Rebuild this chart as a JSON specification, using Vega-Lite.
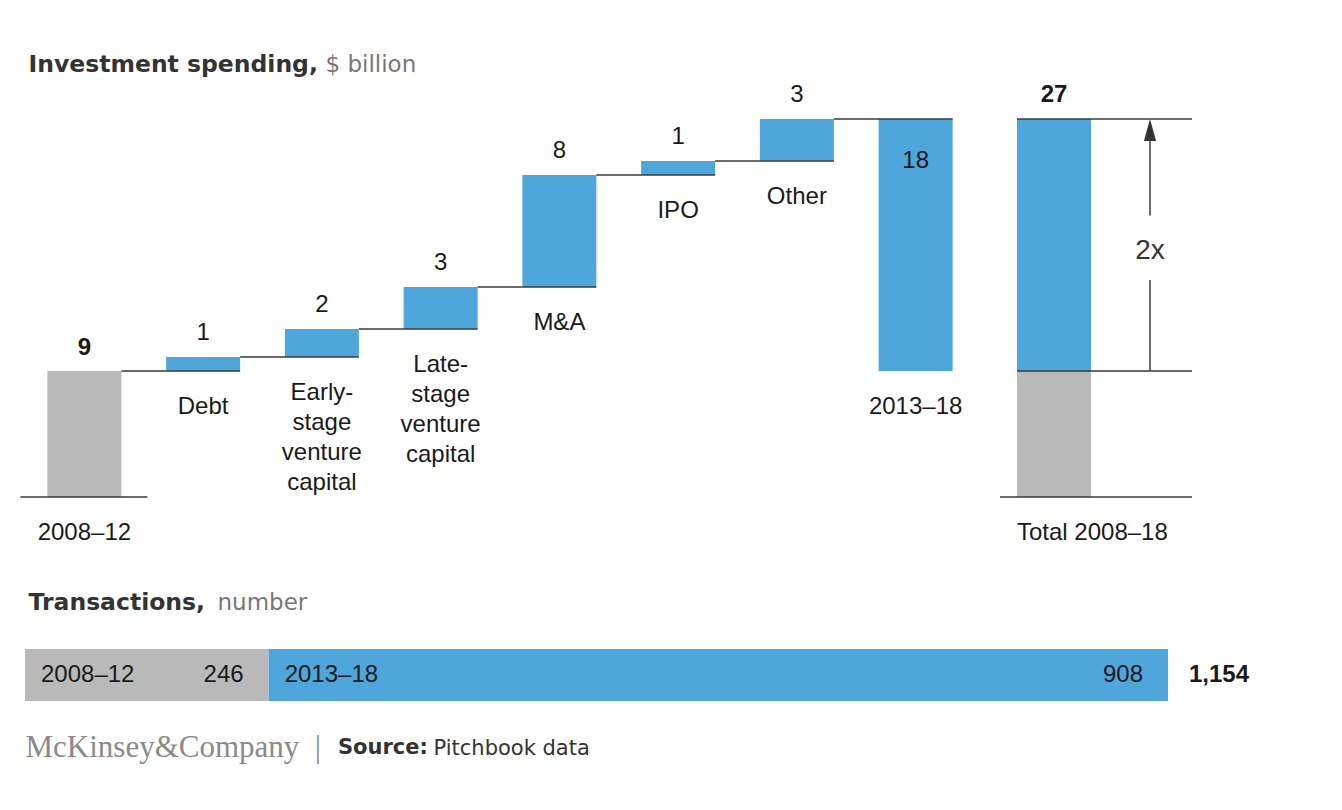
{
  "$schema": "https://vega.github.io/schema/vega-lite/v6.json",
  "background": "white",
  "padding": {"left": 19, "top": 52, "right": 20, "bottom": 10},
  "bounds": "flush",
  "spacing": 152,
  "config": {
    "view": {"stroke": null},
    "axis": {"grid": false, "labels": false, "ticks": false, "domain": false},
    "text": {"font": "Liberation Sans", "fontSize": 24, "color": "#1a1a1a"}
  },
  "vconcat": [
    {
      "width": 1167,
      "height": 378,
      "resolve": {"scale": {"x": "independent", "y": "independent"}, "axis": {"x": "independent", "y": "independent"}},
      "layer": [
        {
          "data": {"values": [
            {"cat": "2008–12", "label": ["2008–12"], "start": 0, "end": 9, "value": "9", "kind": "base", "next": "Debt"},
            {"cat": "Debt", "label": ["Debt"], "start": 9, "end": 10, "value": "1", "kind": "step", "next": "Early-stage venture capital"},
            {"cat": "Early-stage venture capital", "label": ["Early-", "stage", "venture", "capital"], "start": 10, "end": 12, "value": "2", "kind": "step", "next": "Late-stage venture capital"},
            {"cat": "Late-stage venture capital", "label": ["Late-", "stage", "venture", "capital"], "start": 12, "end": 15, "value": "3", "kind": "step", "next": "M&A"},
            {"cat": "M&A", "label": ["M&A"], "start": 15, "end": 23, "value": "8", "kind": "step", "next": "IPO"},
            {"cat": "IPO", "label": ["IPO"], "start": 23, "end": 24, "value": "1", "kind": "step", "next": "Other"},
            {"cat": "Other", "label": ["Other"], "start": 24, "end": 27, "value": "3", "kind": "step", "next": "2013–18"},
            {"cat": "2013–18", "label": ["2013–18"], "start": 9, "end": 27, "value": "18", "kind": "sum", "next": null}
          ]},
          "layer": [
            {
              "mark": {"type": "bar"},
              "encoding": {
                "x": {"field": "cat", "type": "nominal", "scale": {"domain": ["2008–12", "Debt", "Early-stage venture capital", "Late-stage venture capital", "M&A", "IPO", "Other", "2013–18"], "range": [0, 950], "paddingInner": 0.3768, "paddingOuter": 0.1884},
                  "axis": {"orient": "bottom", "title": "$ billion", "titleX": 300, "titleY": -426, "titleAngle": 0, "titleAlign": "left", "titleBaseline": "alphabetic", "titleFont": "DejaVu Sans", "titleFontSize": 23, "titleFontWeight": "normal", "titleColor": "#777777"}},
                "y": {"field": "start", "type": "quantitative", "scale": {"domain": [0, 27], "nice": false, "zero": true},
                  "axis": {"orient": "left", "title": "Investment spending,", "titleX": 3, "titleY": -48, "titleAngle": 0, "titleAlign": "left", "titleBaseline": "alphabetic", "titleFont": "DejaVu Sans", "titleFontSize": 23.5, "titleFontWeight": "bold", "titleColor": "#333333"}},
                "y2": {"field": "end"},
                "color": {"field": "kind", "type": "nominal", "scale": {"domain": ["base", "step", "sum"], "range": ["#b9b9b9", "#4fa6db", "#4fa6db"]}, "legend": null}
              }
            },
            {
              "transform": [{"filter": "isValid(datum.next)"}],
              "mark": {"type": "rule", "color": "#3a3a3a", "strokeWidth": 1.5},
              "encoding": {
                "x": {"field": "cat", "type": "nominal", "bandPosition": 1, "scale": {"domain": ["2008–12", "Debt", "Early-stage venture capital", "Late-stage venture capital", "M&A", "IPO", "Other", "2013–18"], "range": [0, 950], "paddingInner": 0.3768, "paddingOuter": 0.1884}},
                "x2": {"field": "next", "bandPosition": 1},
                "y": {"field": "end", "type": "quantitative", "scale": {"domain": [0, 27], "nice": false, "zero": true}}
              }
            },
            {
              "transform": [{"filter": "datum.kind == 'base'"}],
              "mark": {"type": "rule", "color": "#3a3a3a", "strokeWidth": 1.5, "xOffset": -27, "x2Offset": 26},
              "encoding": {
                "x": {"field": "cat", "type": "nominal", "bandPosition": 0, "scale": {"domain": ["2008–12", "Debt", "Early-stage venture capital", "Late-stage venture capital", "M&A", "IPO", "Other", "2013–18"], "range": [0, 950], "paddingInner": 0.3768, "paddingOuter": 0.1884}},
                "x2": {"field": "cat", "bandPosition": 1},
                "y": {"field": "start", "type": "quantitative", "scale": {"domain": [0, 27], "nice": false, "zero": true}}
              }
            },
            {
              "mark": {"type": "text", "baseline": "top", "dy": 24, "lineHeight": 30},
              "encoding": {
                "x": {"field": "cat", "type": "nominal", "scale": {"domain": ["2008–12", "Debt", "Early-stage venture capital", "Late-stage venture capital", "M&A", "IPO", "Other", "2013–18"], "range": [0, 950], "paddingInner": 0.3768, "paddingOuter": 0.1884}},
                "y": {"field": "start", "type": "quantitative", "scale": {"domain": [0, 27], "nice": false, "zero": true}},
                "text": {"field": "label"}
              }
            },
            {
              "transform": [{"filter": "datum.kind == 'step'"}],
              "mark": {"type": "text", "baseline": "alphabetic", "dy": -17},
              "encoding": {
                "x": {"field": "cat", "type": "nominal", "scale": {"domain": ["2008–12", "Debt", "Early-stage venture capital", "Late-stage venture capital", "M&A", "IPO", "Other", "2013–18"], "range": [0, 950], "paddingInner": 0.3768, "paddingOuter": 0.1884}},
                "y": {"field": "end", "type": "quantitative", "scale": {"domain": [0, 27], "nice": false, "zero": true}},
                "text": {"field": "value"}
              }
            },
            {
              "transform": [{"filter": "datum.kind == 'base'"}],
              "mark": {"type": "text", "baseline": "alphabetic", "dy": -16, "fontWeight": "bold"},
              "encoding": {
                "x": {"field": "cat", "type": "nominal", "scale": {"domain": ["2008–12", "Debt", "Early-stage venture capital", "Late-stage venture capital", "M&A", "IPO", "Other", "2013–18"], "range": [0, 950], "paddingInner": 0.3768, "paddingOuter": 0.1884}},
                "y": {"field": "end", "type": "quantitative", "scale": {"domain": [0, 27], "nice": false, "zero": true}},
                "text": {"field": "value"}
              }
            },
            {
              "transform": [{"filter": "datum.kind == 'sum'"}],
              "mark": {"type": "text", "baseline": "alphabetic", "dy": 49},
              "encoding": {
                "x": {"field": "cat", "type": "nominal", "scale": {"domain": ["2008–12", "Debt", "Early-stage venture capital", "Late-stage venture capital", "M&A", "IPO", "Other", "2013–18"], "range": [0, 950], "paddingInner": 0.3768, "paddingOuter": 0.1884}},
                "y": {"field": "end", "type": "quantitative", "scale": {"domain": [0, 27], "nice": false, "zero": true}},
                "text": {"field": "value"}
              }
            }
          ]
        },
        {
          "layer": [
            {
              "data": {"values": [
                {"cat": "Total", "part": "2008–12", "start": 0, "end": 9, "kind": "base"},
                {"cat": "Total", "part": "2013–18", "start": 9, "end": 27, "kind": "sum"}
              ]},
              "mark": {"type": "bar"},
              "encoding": {
                "x": {"field": "cat", "type": "nominal", "scale": {"domain": ["Total", "2x"], "range": [975, 1167], "paddingInner": 0.2292, "paddingOuter": 0.1146, "align": 0.773},
                  "axis": {"orient": "bottom", "title": "McKinsey&Company\u00a0\u00a0|", "titleX": 0, "titleY": 259, "titleAngle": 0, "titleAlign": "left", "titleBaseline": "alphabetic", "titleFont": "Liberation Serif", "titleFontSize": 31, "titleFontWeight": "normal", "titleColor": "#8a8a8a"}},
                "y": {"field": "start", "type": "quantitative", "scale": {"domain": [0, 27], "nice": false, "zero": true},
                  "axis": {"orient": "left", "title": "Pitchbook data", "titleX": 408, "titleY": 635, "titleAngle": 0, "titleAlign": "left", "titleBaseline": "alphabetic", "titleFont": "DejaVu Sans", "titleFontSize": 21, "titleFontWeight": "normal", "titleColor": "#333333"}},
                "y2": {"field": "end"},
                "color": {"field": "kind", "type": "nominal", "scale": {"domain": ["base", "sum"], "range": ["#b9b9b9", "#4fa6db"]}, "legend": null}
              }
            },
            {
              "data": {"values": [
                {"cat": "Total", "part": "2008–12", "start": 0, "end": 9, "kind": "base"},
                {"cat": "Total", "part": "2013–18", "start": 9, "end": 27, "kind": "sum"}
              ]},
              "mark": {"type": "rule", "color": "#3a3a3a", "strokeWidth": 1.5, "x2Offset": 101},
              "encoding": {
                "x": {"field": "cat", "type": "nominal", "bandPosition": 0, "scale": {"domain": ["Total", "2x"], "range": [975, 1167], "paddingInner": 0.2292, "paddingOuter": 0.1146, "align": 0.773}},
                "x2": {"field": "cat", "bandPosition": 1},
                "y": {"field": "end", "type": "quantitative", "scale": {"domain": [0, 27], "nice": false, "zero": true}}
              }
            },
            {
              "data": {"values": [
                {"cat": "Total", "label": "Total 2008–18", "base": 0, "total": 27}
              ]},
              "layer": [
                {
                  "mark": {"type": "rule", "color": "#3a3a3a", "strokeWidth": 1.5, "xOffset": -17, "x2Offset": 101},
                  "encoding": {
                    "x": {"field": "cat", "type": "nominal", "bandPosition": 0, "scale": {"domain": ["Total", "2x"], "range": [975, 1167], "paddingInner": 0.2292, "paddingOuter": 0.1146, "align": 0.773}},
                    "x2": {"field": "cat", "bandPosition": 1},
                    "y": {"field": "base", "type": "quantitative", "scale": {"domain": [0, 27], "nice": false, "zero": true}}
                  }
                },
                {
                  "mark": {"type": "text", "baseline": "top", "dy": 24, "align": "left"},
                  "encoding": {
                    "x": {"field": "cat", "type": "nominal", "bandPosition": 0, "scale": {"domain": ["Total", "2x"], "range": [975, 1167], "paddingInner": 0.2292, "paddingOuter": 0.1146, "align": 0.773}},
                    "y": {"field": "base", "type": "quantitative", "scale": {"domain": [0, 27], "nice": false, "zero": true}},
                    "text": {"field": "label"}
                  }
                },
                {
                  "mark": {"type": "text", "baseline": "alphabetic", "dy": -17, "fontWeight": "bold"},
                  "encoding": {
                    "x": {"field": "cat", "type": "nominal", "scale": {"domain": ["Total", "2x"], "range": [975, 1167], "paddingInner": 0.2292, "paddingOuter": 0.1146, "align": 0.773}},
                    "y": {"field": "total", "type": "quantitative", "scale": {"domain": [0, 27], "nice": false, "zero": true}},
                    "text": {"field": "total"}
                  }
                }
              ]
            },
            {
              "data": {"values": [
                {"cat": "2x", "from": 9, "to": 15.5},
                {"cat": "2x", "from": 20.1, "to": 26}
              ]},
              "mark": {"type": "rule", "color": "#3a3a3a", "strokeWidth": 1.5},
              "encoding": {
                "x": {"field": "cat", "type": "nominal", "scale": {"domain": ["Total", "2x"], "range": [975, 1167], "paddingInner": 0.2292, "paddingOuter": 0.1146, "align": 0.773}},
                "y": {"field": "from", "type": "quantitative", "scale": {"domain": [0, 27], "nice": false, "zero": true}},
                "y2": {"field": "to"}
              }
            },
            {
              "data": {"values": [
                {"cat": "2x", "low": 9, "high": 27, "mid": 18, "text": "2x"}
              ]},
              "layer": [
                {
                  "mark": {"type": "point", "shape": "M0,0L0.55,2L-0.55,2Z", "size": 484, "filled": true, "color": "#333333", "opacity": 1, "strokeWidth": 0},
                  "encoding": {
                    "x": {"field": "cat", "type": "nominal", "scale": {"domain": ["Total", "2x"], "range": [975, 1167], "paddingInner": 0.2292, "paddingOuter": 0.1146, "align": 0.773}},
                    "y": {"field": "high", "type": "quantitative", "scale": {"domain": [0, 27], "nice": false, "zero": true}}
                  }
                },
                {
                  "mark": {"type": "text", "baseline": "middle", "dy": 6, "fontSize": 28, "color": "#333333"},
                  "encoding": {
                    "x": {"field": "cat", "type": "nominal", "scale": {"domain": ["Total", "2x"], "range": [975, 1167], "paddingInner": 0.2292, "paddingOuter": 0.1146, "align": 0.773}},
                    "y": {"field": "mid", "type": "quantitative", "scale": {"domain": [0, 27], "nice": false, "zero": true}},
                    "text": {"field": "text"}
                  }
                }
              ]
            }
          ]
        }
      ]
    },
    {
      "width": 1143,
      "height": 52,
      "title": {"text": "Source:", "orient": "bottom", "anchor": "start", "frame": "group", "dx": 313, "offset": 53, "baseline": "alphabetic", "font": "DejaVu Sans", "fontSize": 21, "fontWeight": "bold", "color": "#333333"},
      "data": {"values": [
        {"metric": "Transactions", "period": "2008–12", "n": 246},
        {"metric": "Transactions", "period": "2013–18", "n": 908}
      ]},
      "transform": [{"stack": "n", "groupby": ["metric"], "sort": [{"field": "period", "order": "ascending"}], "as": ["x0", "x1"]}],
      "layer": [
        {
          "mark": {"type": "bar"},
          "encoding": {
            "x": {"field": "x0", "type": "quantitative", "scale": {"domain": [0, 1154], "nice": false, "zero": true},
              "axis": {"orient": "bottom", "title": "number", "titleX": 192, "titleY": -92, "titleAngle": 0, "titleAlign": "left", "titleBaseline": "alphabetic", "titleFont": "DejaVu Sans", "titleFontSize": 23, "titleFontWeight": "normal", "titleColor": "#777777"}},
            "x2": {"field": "x1"},
            "y": {"field": "metric", "type": "nominal", "scale": {"paddingInner": 0, "paddingOuter": 0},
              "axis": {"orient": "left", "title": "Transactions,", "titleX": 3, "titleY": -40, "titleAngle": 0, "titleAlign": "left", "titleBaseline": "alphabetic", "titleFont": "DejaVu Sans", "titleFontSize": 23.5, "titleFontWeight": "bold", "titleColor": "#333333"}},
            "color": {"field": "period", "type": "nominal", "scale": {"domain": ["2008–12", "2013–18"], "range": ["#b9b9b9", "#4fa6db"]}, "legend": null}
          }
        },
        {
          "mark": {"type": "text", "align": "left", "dx": 16},
          "encoding": {
            "x": {"field": "x0", "type": "quantitative", "scale": {"domain": [0, 1154], "nice": false, "zero": true}},
            "y": {"field": "metric", "type": "nominal", "scale": {"paddingInner": 0, "paddingOuter": 0}},
            "text": {"field": "period"}
          }
        },
        {
          "mark": {"type": "text", "align": "right", "dx": -25},
          "encoding": {
            "x": {"field": "x1", "type": "quantitative", "scale": {"domain": [0, 1154], "nice": false, "zero": true}},
            "y": {"field": "metric", "type": "nominal", "scale": {"paddingInner": 0, "paddingOuter": 0}},
            "text": {"field": "n", "type": "quantitative", "format": "d"}
          }
        },
        {
          "transform": [{"filter": "datum.period == '2013–18'"}],
          "mark": {"type": "text", "align": "left", "dx": 21, "fontWeight": "bold"},
          "encoding": {
            "x": {"field": "x1", "type": "quantitative", "scale": {"domain": [0, 1154], "nice": false, "zero": true}},
            "y": {"field": "metric", "type": "nominal", "scale": {"paddingInner": 0, "paddingOuter": 0}},
            "text": {"field": "x1", "type": "quantitative", "format": ",d"}
          }
        }
      ]
    }
  ]
}
